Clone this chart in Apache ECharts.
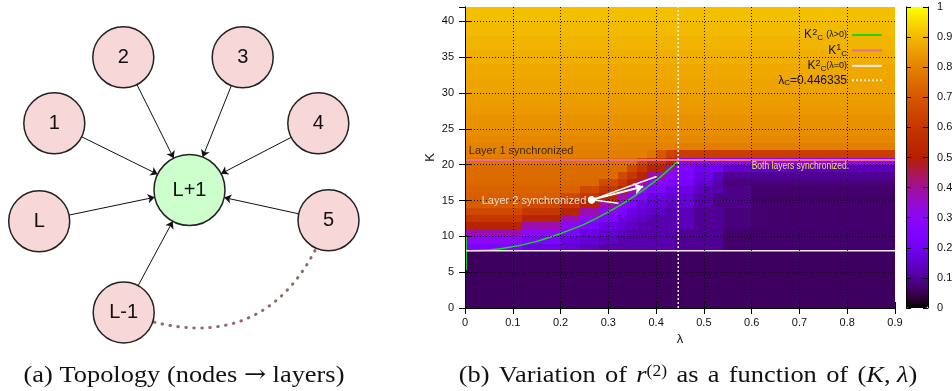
<!DOCTYPE html>
<html>
<head>
<meta charset="utf-8">
<script src="https://cdn.jsdelivr.net/npm/echarts@6/dist/echarts.min.js"></script>
<style>
  html, body { margin: 0; padding: 0; background: #fff; }
  #container { width: 952px; height: 391px; }
</style>
</head>
<body>
<div id="container"></div>
<script>
// r(2) map, one string per K row (top row is K = 41, step 1), 45 columns lambda = 0 .. 0.88 step 0.02
// tokens are value*100, optionally followed by *count
let lambdaStep = 0.02;
let kTopRow = 41;
let heatRows = [
  '91*45', '91*45', '90*45', '90*45', '89*45', '89*45',
  '88*45', '88*45', '87*45', '87*45', '86*45', '86*45',
  '85*45', '85*45', '84*45', '83*45', '83*45', '82*45', '81*45',
  '80*22 79*23',
  '79*19 77 70 64 62*23',
  '76*18 66 60*2 52 32*23',
  '75*17 66 60 52*2 38 26*2 20*3 15*7 13*11',
  '75*16 66 60 52 38*2 30 24*2 18*2 14 10*18',
  '74*14 66*2 60 52 38 30*2 24 22*2 16*2 12 8*18',
  '73*12 66*2 60*2 52 38 30 24*2 18*3 14 12*2 9*3 7*15',
  '72*10 66*2 60*2 52*2 38 30 24 18*2 16*3 12*2 9*4 7*15',
  '71*6 66*4 60*2 52*2 38*2 30 24 18 16*2 14 16*2 12*2 9*4 7*15',
  '66*6 60*4 52*2 38*2 30*2 24 18 16 14*2 12 13*2 10*3 8*3 7*15',
  '60*6 52*4 38*2 30*2 24*2 18 16 14 12*3 13*2 10*3 8*3 7*15',
  '52*6 38*4 30*2 24*2 18*2 16 14 12*4 13*2 10*3 8*3 7*15',
  '38*6 30*4 24*2 18*2 16*2 14 12*5 10*5 7*18',
  '30*6 24*4 18*2 16*2 14*2 12*6 10*5 7*18',
  '24*6 18*4 16*2 14*2 12*8 10*5 7*18',
  '6*45', '6*45', '6*45', '6*45', '6*45', '6*45', '6*45', '6*45'
];

// critical couplings
let kc2Lambda = [0, 0.05, 0.1, 0.15, 0.2, 0.25, 0.3, 0.35, 0.4, 0.446];
let kc2Values = [8.0, 8.1, 8.55, 9.3, 10.4, 11.7, 13.4, 15.4, 17.8, 20.5];
let kc2SpikeLambda = [0.002, 0.002];
let kc2SpikeValues = [5.3, 9.9];
let kc1Value = 20.65;
let kc2ZeroValue = 8;
let lambdaC = 0.446335;
let lambdaMax = 0.9;
let kMax = 42;
let lambdaGrid = [0.1, 0.2, 0.3, 0.4, 0.5, 0.6, 0.7, 0.8];
let kGrid = [5, 10, 15, 20, 25, 30, 35, 40];

// annotations
let arrowFrom = [0.265, 15.09];
let arrowHeadTo = [[0.373, 16.96]];
let arrowLineTo = [[0.401, 18.36], [0.321, 14.63]];
let noteText = ['Layer 1 synchronized', 'Layer 2 synchronized', 'Both layers synchronized.'];
let noteLambda = [0.008, 0.035, 0.6];
let noteK = [21.9, 14.96, 19.8];

// topology diagram
let nodeNames = ['1', '2', '3', '4', '5', 'L', 'L-1', 'L+1'];
let nodeX = [54.3, 123.3, 242.7, 318.3, 328.5, 39.2, 123.7, 189.5];
let nodeY = [123.3, 57.3, 57.3, 123.3, 220.3, 221.3, 312.5, 190];
let hubName = 'L+1';
let ringFrom = 'L-1';
let ringTo = '5';

function decodeRow(s) {
  let out = [];
  s.split(' ').forEach(function (tok) {
    let parts = tok.split('*');
    let n = parts.length > 1 ? parseInt(parts[1], 10) : 1;
    for (let i = 0; i < n; i++) out.push(parseInt(parts[0], 10) / 100);
  });
  return out;
}

let heatData = [];
heatRows.forEach(function (row, r) {
  decodeRow(row).forEach(function (v, j) {
    heatData.push([j * lambdaStep, kTopRow - r, v]);
  });
});

// gnuplot rgbformulae 7,5,15
function pm3d(x) {
  let c = function (v) { return Math.round(255 * Math.max(0, Math.min(1, v))); };
  return 'rgb(' + c(Math.sqrt(x)) + ',' + c(x * x * x) + ',' + c(Math.sin(2 * Math.PI * x)) + ')';
}
let paletteColors = [];
for (let i = 0; i <= 40; i++) paletteColors.push(pm3d(i / 40));

let font = 'Liberation Sans, Arial, sans-serif';
let serif = 'Liberation Serif, Times New Roman, serif';

let graphNodes = nodeNames.map(function (n, i) {
  let hub = n === hubName;
  return {
    name: n,
    value: [nodeX[i], nodeY[i]],
    symbolSize: hub ? 71 : 61,
    itemStyle: { color: hub ? '#ccffcc' : '#f7d7d7', borderColor: '#222', borderWidth: 1.5 }
  };
});
let graphLinks = nodeNames.filter(function (n) { return n !== hubName; }).map(function (n) {
  return { source: n, target: hubName };
});
graphLinks.push({
  source: ringFrom, target: ringTo, symbol: ['none', 'none'],
  lineStyle: { type: [0.5, 7.5], cap: 'round', width: 3, color: '#946868', curveness: -0.5 }
});

let legendNames = {
  kc2: '{m|K}{sp|2}{sb|C} {s|(λ>0)}',
  kc1: '{m|K}{sp|1}{sb|C}',
  kc20: '{m|K}{sp|2}{sb|C}{s|(λ=0)}',
  lc: '{m|λ}{sb|C}{m|=0.446335}'
};

let gridLineStyle = { color: '#000', type: [1, 2], width: 1, opacity: 0.85 };

let captionRich = {
  w: { width: 8.5, fontSize: 24, fontFamily: serif },
  ar: { fontSize: 24, fontFamily: 'DejaVu Serif, ' + serif },
  i: { fontStyle: 'italic', fontSize: 24, fontFamily: serif },
  sp: { fontSize: 16, lineHeight: 16, verticalAlign: 'top', fontFamily: serif }
};

let myChart = echarts.init(document.getElementById('container'));

let baseGraphic = [
  {
    type: 'text', x: 184, y: 376, scaleX: 1.1,
    style: {
      text: '(a) Topology (nodes {ar|→} layers)', font: '24px ' + serif,
      fill: '#111', align: 'center', verticalAlign: 'middle', rich: captionRich
    }
  },
  {
    type: 'text', x: 688, y: 376, scaleX: 1.1,
    style: {
      text: '(b){w| }Variation{w| }of{w| }{i|r}{sp|(2)}{w| }as{w| }a{w| }function{w| }of{w| }({i|K}, {i|λ})',
      font: '24px ' + serif, fill: '#111', align: 'center', verticalAlign: 'middle', rich: captionRich
    }
  }
];

let option = {
  animation: false,
  backgroundColor: '#fff',
  grid: [
    { left: 465, top: 7, width: 430, height: 301, outerBoundsMode: 'none' },
    { left: 906, top: 7, width: 22, height: 301, outerBoundsMode: 'none' },
    { left: 0, top: 0, width: 380, height: 391, outerBoundsMode: 'none' }
  ],
  xAxis: [
    {
      type: 'value', gridIndex: 0, min: 0, max: lambdaMax, interval: 0.1, z: 6,
      axisLine: { show: true, lineStyle: { color: '#000', width: 1 } },
      axisTick: { show: true, inside: true, length: 6, lineStyle: { color: '#000' } },
      axisLabel: { margin: 9, fontSize: 11, color: '#111', fontFamily: font },
      splitLine: { show: false },
      name: 'λ', nameLocation: 'middle', nameGap: 24,
      nameTextStyle: { fontSize: 13, color: '#111', fontFamily: font }
    },
    {
      type: 'value', gridIndex: 0, min: 0, max: lambdaMax, interval: 0.1, position: 'top', z: 6,
      axisLine: { show: true, lineStyle: { color: '#000', width: 1 } },
      axisTick: { show: true, inside: true, length: 6, lineStyle: { color: '#000' } },
      axisLabel: { show: false }, splitLine: { show: false }
    },
    { type: 'value', gridIndex: 1, min: 0, max: 1, show: false },
    { type: 'value', gridIndex: 2, min: 0, max: 380, show: false }
  ],
  yAxis: [
    {
      type: 'value', gridIndex: 0, min: 0, max: kMax, interval: 5, z: 6,
      axisLine: { show: true, lineStyle: { color: '#000', width: 1 } },
      axisTick: { show: true, inside: true, length: 6, lineStyle: { color: '#000' } },
      axisLabel: { margin: 11, fontSize: 11, color: '#111', fontFamily: font, showMaxLabel: false },
      splitLine: { show: false },
      name: 'K', nameLocation: 'middle', nameGap: 28, nameRotate: 90,
      nameTextStyle: { fontSize: 13, color: '#111', fontFamily: font }
    },
    {
      type: 'value', gridIndex: 0, min: 0, max: kMax, interval: 5, position: 'right', z: 6,
      axisLine: { show: true, lineStyle: { color: '#000', width: 1 } },
      axisTick: { show: true, inside: true, length: 6, lineStyle: { color: '#000' } },
      axisLabel: { show: false }, splitLine: { show: false }
    },
    {
      type: 'value', gridIndex: 1, min: 0, max: 1, interval: 0.1, position: 'left', z: 10,
      axisLine: { show: true, lineStyle: { color: '#000', width: 1 } },
      axisTick: { show: true, inside: true, length: 5, lineStyle: { color: '#000' } },
      axisLabel: { show: false }, splitLine: { show: false }
    },
    {
      type: 'value', gridIndex: 1, min: 0, max: 1, interval: 0.1, position: 'right', z: 10,
      axisLine: { show: true, lineStyle: { color: '#000', width: 1 } },
      axisTick: { show: true, inside: true, length: 5, lineStyle: { color: '#000' } },
      axisLabel: { margin: 9, fontSize: 11, color: '#111', fontFamily: font },
      splitLine: { show: false }
    },
    { type: 'value', gridIndex: 2, min: 0, max: 391, inverse: true, show: false }
  ],
  visualMap: {
    type: 'continuous', seriesIndex: 0, dimension: 2, min: 0, max: 1,
    calculable: false, hoverLink: false,
    left: 906, top: 7, padding: 0, itemWidth: 22, itemHeight: 301,
    text: null, showLabel: false,
    inRange: { color: paletteColors }
  },
  legend: {
    orient: 'vertical', align: 'right', right: 69, top: 28, padding: 0,
    itemWidth: 30, itemHeight: 10, itemGap: 1.4,
    data: ['kc2', 'kc1', 'kc20', 'lc'],
    formatter: function (name) { return legendNames[name]; },
    itemStyle: { opacity: 0, borderWidth: 0 },
    textStyle: {
      color: '#111', fontFamily: font,
      rich: {
        m: { fontSize: 12, lineHeight: 14, fontFamily: font, color: '#111' },
        s: { fontSize: 9, lineHeight: 14, fontFamily: font, color: '#111' },
        sp: { fontSize: 9, lineHeight: 9, verticalAlign: 'top', fontFamily: font, color: '#111' },
        sb: { fontSize: 8, lineHeight: 8, verticalAlign: 'bottom', fontFamily: font, color: '#111' }
      }
    },
    selectedMode: false
  },
  graphic: baseGraphic,
  series: [
    {
      type: 'custom', xAxisIndex: 0, yAxisIndex: 0, clip: true, z: 2,
      data: heatData,
      encode: { x: 0, y: 1 },
      renderItem: function (params, api) {
        let l = api.value(0), k = api.value(1);
        let a = api.coord([l, k + 1]);
        let b = api.coord([l + lambdaStep, k]);
        let x0 = Math.round(a[0]), y0 = Math.round(a[1]);
        return {
          type: 'rect',
          shape: { x: x0, y: y0, width: Math.round(b[0]) - x0, height: Math.round(b[1]) - y0 },
          style: { fill: api.visual('color') }
        };
      }
    },
    {
      name: 'kc2', type: 'line', xAxisIndex: 0, yAxisIndex: 0, z: 4,
      symbol: 'none', smooth: 0.3, color: '#18d818',
      lineStyle: { color: '#18d818', width: 1.5 },
      data: kc2Lambda.map(function (l, i) { return [l, kc2Values[i]]; })
    },
    {
      name: 'kc2', type: 'line', xAxisIndex: 0, yAxisIndex: 0, z: 4,
      symbol: 'none', color: '#18d818',
      lineStyle: { color: '#18d818', width: 2 },
      data: kc2SpikeLambda.map(function (l, i) { return [l, kc2SpikeValues[i]]; })
    },
    {
      name: 'kc1', type: 'line', xAxisIndex: 0, yAxisIndex: 0, z: 4,
      symbol: 'none', color: '#ec6c92',
      lineStyle: { color: '#ec6c92', width: 2 },
      data: [[0, kc1Value], [lambdaMax, kc1Value]]
    },
    {
      name: 'kc20', type: 'line', xAxisIndex: 0, yAxisIndex: 0, z: 4,
      symbol: 'none', color: '#f2eaf2',
      lineStyle: { color: '#f2eaf2', width: 1.5 },
      data: [[0, kc2ZeroValue], [lambdaMax, kc2ZeroValue]],
      markLine: {
        silent: true, symbol: 'none', label: { show: false }, animation: false,
        lineStyle: gridLineStyle, emphasis: { disabled: true },
        data: lambdaGrid.map(function (v) { return { xAxis: v }; })
          .concat(kGrid.map(function (v) { return { yAxis: v }; }))
      }
    },
    {
      name: 'lc', type: 'line', xAxisIndex: 0, yAxisIndex: 0, z: 4,
      symbol: 'none', color: '#f8f2dc',
      lineStyle: { color: '#f8f2dc', width: 1.5, type: [2, 2] },
      data: [[lambdaC, 0], [lambdaC, kMax]]
    },
    {
      type: 'lines', coordinateSystem: 'cartesian2d', xAxisIndex: 0, yAxisIndex: 0, z: 5,
      symbol: ['emptyCircle', 'arrow'], symbolSize: [5, 9],
      lineStyle: { color: '#fff', width: 2, opacity: 1 },
      data: arrowHeadTo.map(function (p) { return { coords: [arrowFrom, p] }; })
    },
    {
      type: 'lines', coordinateSystem: 'cartesian2d', xAxisIndex: 0, yAxisIndex: 0, z: 5,
      symbol: ['emptyCircle', 'none'], symbolSize: [5, 0],
      lineStyle: { color: '#fff', width: 1.5, opacity: 1 },
      data: arrowLineTo.map(function (p) { return { coords: [arrowFrom, p] }; })
    },
    {
      type: 'scatter', xAxisIndex: 0, yAxisIndex: 0, z: 5, symbolSize: 0, silent: true,
      data: noteText.slice(0, 2).map(function (t, i) {
        return { value: [noteLambda[i], noteK[i]], name: t, label: { color: i === 0 ? '#111' : '#fff' } };
      }),
      label: { show: true, position: 'right', distance: 0, formatter: '{b}', fontSize: 11, fontFamily: font }
    },
    {
      type: 'graph', coordinateSystem: 'cartesian2d', xAxisIndex: 3, yAxisIndex: 4,
      layout: 'none', roam: false, silent: true, z: 3,
      edgeSymbol: ['none', 'arrow'], edgeSymbolSize: 7,
      lineStyle: { color: '#111', width: 1, opacity: 1, curveness: 0 },
      label: { show: true, position: 'inside', fontSize: 20, color: '#111', fontFamily: font },
      data: graphNodes,
      links: graphLinks
    }
  ]
};

myChart.setOption(option);

// narrow yellow note, placed through the plot's own scale
let notePos = myChart.convertToPixel({ gridIndex: 0 }, [noteLambda[2], noteK[2]]);
myChart.setOption({
  graphic: baseGraphic.concat([{
    type: 'text', x: notePos[0], y: notePos[1], scaleX: 0.74, z: 20,
    style: {
      text: noteText[2], font: '11.5px ' + font, fill: '#f2e46c',
      align: 'left', verticalAlign: 'middle'
    }
  }])
});
</script>
</body>
</html>
